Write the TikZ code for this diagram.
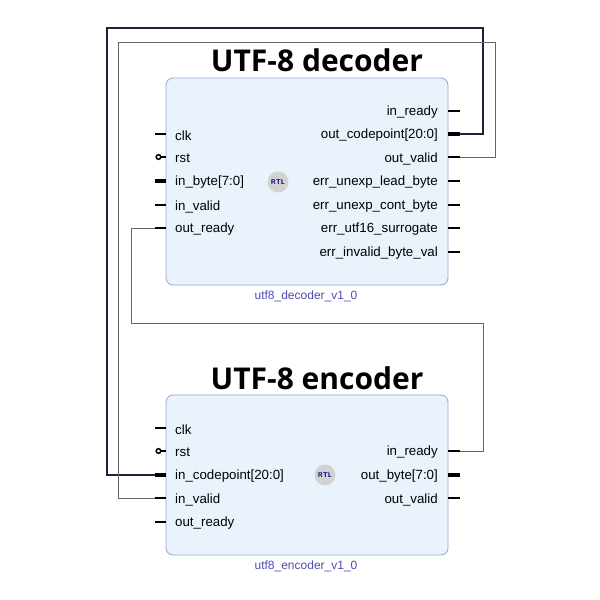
\documentclass[tikz,border=0pt]{standalone}
\usepackage{fontspec}
\setmainfont{Liberation Sans}
\newfontfamily\titlefont{Open Sans}
\definecolor{boxfill}{HTML}{EAF3FC}
\definecolor{boxline}{HTML}{8FA8CC}
\definecolor{busc}{HTML}{17243A}
\begin{document}
\begin{tikzpicture}[x=1pt,y=-1pt,
  blk/.style={draw=boxline, fill=boxfill, rounded corners=7pt, line width=0.8pt},
  pin/.style={font=\fontsize{13.3}{15}\selectfont, inner sep=0pt},
  stub/.style={line width=2pt},
  busstub/.style={line width=4.5pt},
  ttl/.style={font=\titlefont\bfseries\fontsize{30}{32}\selectfont},
  ipname/.style={font=\fontsize{12}{14}\selectfont, text=blue!40!gray},
  rtl/.style={circle, fill=gray!35, minimum size=21pt, inner sep=0pt, font=\sffamily\bfseries\fontsize{7}{8}\selectfont, text=blue!50!black},
  thinw/.style={draw=gray!80!black, line width=0.7pt},
  busw/.style={draw=busc, line width=2.2pt}]
\useasboundingbox (0,0) rectangle (600,600);
% decoder
\node[ttl] (dt) at (317,60) {UTF-8 decoder};
\draw[blk] (166,78) rectangle (448,285);
\node[rtl] (drtl) at (278,182) {RTL};
\node[ipname] (dn) at (306,296) {utf8\_decoder\_v1\_0};
\foreach \n/\t/\y in {dclk/clk/134,drst/rst/157,dinb/in\_byte[7:0]/181,dinv/in\_valid/205,doutr/out\_ready/228}
  \node[pin,anchor=west] (\n) at (175,\y+1.5) {\t};
\foreach \n/\t/\y in {dinr/in\_ready/111,doutc/out\_codepoint[20:0]/134,doutv/out\_valid/157,de1/err\_unexp\_lead\_byte/181,de2/err\_unexp\_cont\_byte/205,de3/err\_utf16\_surrogate/228,de4/err\_invalid\_byte\_val/252}
  \node[pin,anchor=east] (\n) at (438,\y+1.5) {\t};
\foreach \y in {134,205,228} \draw[stub] (155,\y) -- (166,\y);
\draw[busstub] (155,181) -- (166,181);
\draw[stub] (161,157) -- (166,157); \draw[line width=1.5pt] (158.5,157) circle (2.3pt);
\foreach \y in {111,157,181,205,228,252} \draw[stub] (448,\y) -- (460,\y);
\draw[busstub] (448,134) -- (460,134);
% encoder
\node[ttl] (et) at (317,378) {UTF-8 encoder};
\draw[blk] (166,395) rectangle (448,555);
\node[rtl] (ertl) at (325,475) {RTL};
\node[ipname] (en) at (306,566) {utf8\_encoder\_v1\_0};
\foreach \n/\t/\y in {eclk/clk/428,erst/rst/451,einc/in\_codepoint[20:0]/475,einv/in\_valid/498,eoutr/out\_ready/522}
  \node[pin,anchor=west] (\n) at (175,\y+1.5) {\t};
\foreach \n/\t/\y in {einr/in\_ready/451,eoutb/out\_byte[7:0]/475,eoutv/out\_valid/498}
  \node[pin,anchor=east] (\n) at (438,\y+1.5) {\t};
\foreach \y in {428,498,522} \draw[stub] (155,\y) -- (166,\y);
\draw[busstub] (155,475) -- (166,475);
\draw[stub] (161,451) -- (166,451); \draw[line width=1.5pt] (158.5,451) circle (2.3pt);
\foreach \y in {451,498} \draw[stub] (448,\y) -- (460,\y);
\draw[busstub] (448,475) -- (460,475);
% wires
\coordinate (a1) at (460,134); \coordinate (a2) at (155,475);
\draw[busw] (a1) -| (483,28) -| (107,475) -- (a2);
\coordinate (b1) at (460,157); \coordinate (b2) at (155,498);
\draw[thinw] (b1) -| (495,42) -| (118,498) -- (b2);
\coordinate (c1) at (155,228); \coordinate (c2) at (460,451);
\draw[thinw] (c1) -| (131,323) -| (483,451) -- (c2);
\end{tikzpicture}
\end{document}
